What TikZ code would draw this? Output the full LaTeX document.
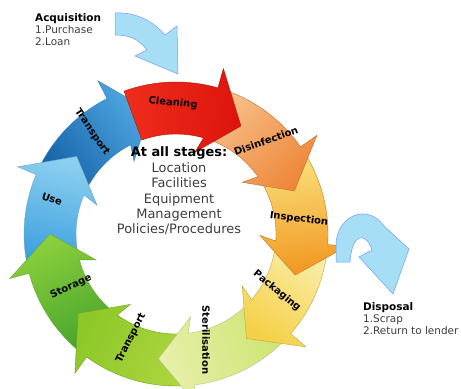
\documentclass[tikz,border=0pt]{standalone}
\usepackage{fontspec}
\setmainfont{DejaVu Sans}
\usepackage{tikz}
\usetikzlibrary{positioning}
\definecolor{cleanreda}{RGB}{238,45,28}
\definecolor{cleanredb}{RGB}{222,20,12}
\definecolor{disorangea}{RGB}{247,190,135}
\definecolor{disorangeb}{RGB}{238,135,58}
\definecolor{inspyellowa}{RGB}{250,226,125}
\definecolor{inspyellowb}{RGB}{241,150,32}
\definecolor{packyellowa}{RGB}{250,236,165}
\definecolor{packyellowb}{RGB}{245,208,70}
\definecolor{sterilgreena}{RGB}{205,228,115}
\definecolor{sterilgreenb}{RGB}{232,240,170}
\definecolor{transgreena}{RGB}{172,212,62}
\definecolor{transgreenb}{RGB}{140,200,40}
\definecolor{storegreena}{RGB}{72,165,45}
\definecolor{storegreenb}{RGB}{140,208,60}
\definecolor{usebluea}{RGB}{60,160,222}
\definecolor{usebblueb}{RGB}{140,208,240}
\definecolor{transbluea}{RGB}{22,100,170}
\definecolor{transblueb}{RGB}{80,168,225}
\definecolor{sideblue}{RGB}{165,222,245}
\definecolor{txtgray}{RGB}{60,60,60}
\newcommand{\Rout}{152bp}
\newcommand{\Rin}{100bp}
% one curved arrow of the ring: tail angle, barb angle, tail colour, head colour
\newcommand{\ringarrow}[4]{%
\pgfmathsetmacro\shang{(#1+#2-15)/2-180}
\draw[seg=#4, top color=#4, bottom color=#3, shading angle=\shang]
  (#1:\Rout) arc[start angle=#1, end angle=#2, radius=\Rout]
  -- (#2:172bp) -- ({#2-15}:126bp) -- ({#2+3}:84bp) -- (#2:\Rin)
  arc[start angle=#2, end angle=#1, radius=\Rin] -- cycle;}
\tikzset{
  seg/.style={draw=#1!80!black, line width=0.4pt},
  lbl/.style={font=\fontsize{10}{12}\selectfont\bfseries, inner sep=0pt},
  sidetxt/.style={font=\fontsize{10.5}{12}\selectfont, text=txtgray, align=left, inner sep=0pt},
  sidearrow/.style={fill=sideblue, draw=sideblue!70!blue, line width=0.5pt}
}
\begin{document}
\begin{tikzpicture}[x=1bp,y=1bp]
\useasboundingbox (0,0) rectangle (461,388);
\begin{scope}[shift={(176,154)}]
\ringarrow{-206}{-243}{transbluea}{transblueb}
\ringarrow{-168}{-203}{usebluea}{usebblueb}
\ringarrow{-129}{-165}{storegreena}{storegreenb}
\ringarrow{-86}{-126}{transgreena}{transgreenb}
\ringarrow{-44}{-83}{sterilgreena}{sterilgreenb}
\ringarrow{-7}{-41}{packyellowa}{packyellowb}
\ringarrow{32}{-4}{inspyellowa}{inspyellowb}
\ringarrow{71}{35}{disorangea}{disorangeb}
\ringarrow{110}{74}{cleanreda}{cleanredb}
\end{scope}
\node[lbl, rotate=-5] (clean) at (173,285) {Cleaning};
\node[lbl, rotate=20] (disinf) at (266,247) {Disinfection};
\node[lbl, rotate=-7] (insp) at (299,169) {Inspection};
\node[lbl, rotate=-39] (pack) at (277,97) {Packaging};
\node[lbl, rotate=-90] (steril) at (206,48) {Sterilisation};
\node[lbl, rotate=63] (transa) at (131,50) {Transport};
\node[lbl, rotate=25] (store) at (71,101) {Storage};
\node[lbl, rotate=-18] (use) at (52,189) {Use};
\node[lbl, rotate=-56] (transb) at (92,256) {Transport};
\node[font=\fontsize{13}{15.5}\selectfont, text=txtgray, align=center] (stages) at (179,197)
  {\textcolor{black}{\textbf{At all stages:}}\\Location\\Facilities\\Equipment\\Management\\Policies/Procedures};
% acquisition and disposal
\filldraw[sidearrow] (115,375) .. controls (135,376) and (152,368) .. (165,353)
  -- (177,362) -- (178,314) -- (135,332) -- (147,338)
  .. controls (138,350) and (128,353) .. (115,353) -- cycle;
\node[sidetxt, anchor=west] (acq) at (35,358) {\textcolor{black}{\textbf{Acquisition}}\\1.Purchase\\2.Loan};
\filldraw[sidearrow] (336,126) -- (336,145) .. controls (338,173) and (368,185) .. (384,162)
  -- (409,139) -- (393,94) -- (359,131) -- (372,138)
  .. controls (366,156) and (352,156) .. (350,126) -- cycle;
\node[sidetxt, anchor=west] (disp) at (363,69) {\textcolor{black}{\textbf{Disposal}}\\1.Scrap\\2.Return to lender};
\end{tikzpicture}
\end{document}
